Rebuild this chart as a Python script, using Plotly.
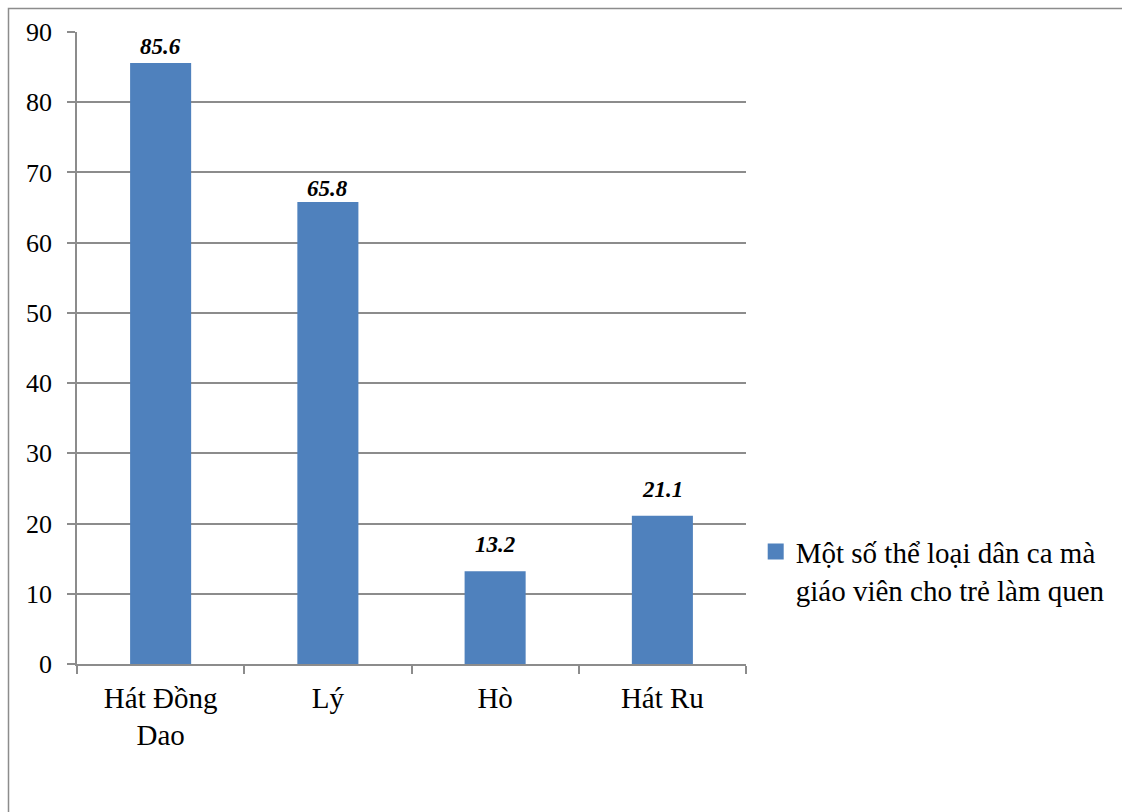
import plotly.graph_objects as go

categories = ["Hát Đồng<br>Dao", "Lý", "Hò", "Hát Ru"]
values = [85.6, 65.8, 13.2, 21.1]
series_name = "Một số thể loại dân ca mà<br>giáo viên cho trẻ làm quen"
y_ticks = [0, 10, 20, 30, 40, 50, 60, 70, 80, 90]

# vertical distance (px) from each bar top to the centre of its value label
label_lift = [16, 13, 27, 26]

serif = "Liberation Serif"
grid_col = "#8c8c8c"
bar_col = "#4F81BD"

fig = go.Figure()
fig.add_trace(go.Bar(
    x=categories,
    y=values,
    name=series_name,
    marker=dict(color=bar_col, line=dict(width=0)),
    showlegend=False,
    hoverinfo="x+y",
))
# legend entry with a larger square swatch
fig.add_trace(go.Scatter(
    x=[None], y=[None],
    mode="markers",
    name=series_name,
    marker=dict(symbol="square", size=16, color=bar_col, line=dict(width=0)),
    showlegend=True,
))

for cat, v, lift in zip(categories, values, label_lift):
    fig.add_annotation(
        x=cat, y=v, xref="x", yref="y",
        text=f"{v:.1f}",
        showarrow=False,
        yanchor="middle",
        yshift=lift,
        font=dict(family=serif, size=23, color="black", weight="bold", style="italic"),
    )

fig.update_layout(
    width=1122,
    height=812,
    margin=dict(l=77, r=376, t=32, b=148),
    paper_bgcolor="white",
    plot_bgcolor="white",
    bargap=0.635,
    font=dict(family=serif, size=27, color="black"),
    showlegend=True,
    legend=dict(
        x=1.0145, y=0.218, xanchor="left", yanchor="top",
        valign="top",
        font=dict(family=serif, size=29, color="black"),
        bgcolor="rgba(0,0,0,0)",
        itemwidth=30,
        tracegroupgap=0,
    ),
    xaxis=dict(
        showline=True, linecolor=grid_col, linewidth=1.5,
        ticks="outside", ticklen=8, tickcolor=grid_col, tickwidth=1.5,
        tickson="boundaries",
        showgrid=False,
        tickfont=dict(family=serif, size=29, color="black"),
        ticklabelstandoff=7,
    ),
    yaxis=dict(
        range=[0, 90],
        tickvals=y_ticks,
        showline=True, linecolor=grid_col, linewidth=1.5,
        ticks="outside", ticklen=8, tickcolor=grid_col, tickwidth=1.5,
        showgrid=True, gridcolor=grid_col, gridwidth=1.5,
        zeroline=False,
        tickfont=dict(family=serif, size=26, color="black"),
        ticklabelstandoff=10,
    ),
    shapes=[dict(
        type="rect", xref="paper", yref="paper",
        x0=(8.5 - 77) / 669, x1=1.7,
        y0=(664 - 8.5) / 632, y1=-0.5,
        line=dict(color=grid_col, width=1.5),
        fillcolor="rgba(0,0,0,0)",
        layer="below",
    )],
)

fig.write_html("out.html")
